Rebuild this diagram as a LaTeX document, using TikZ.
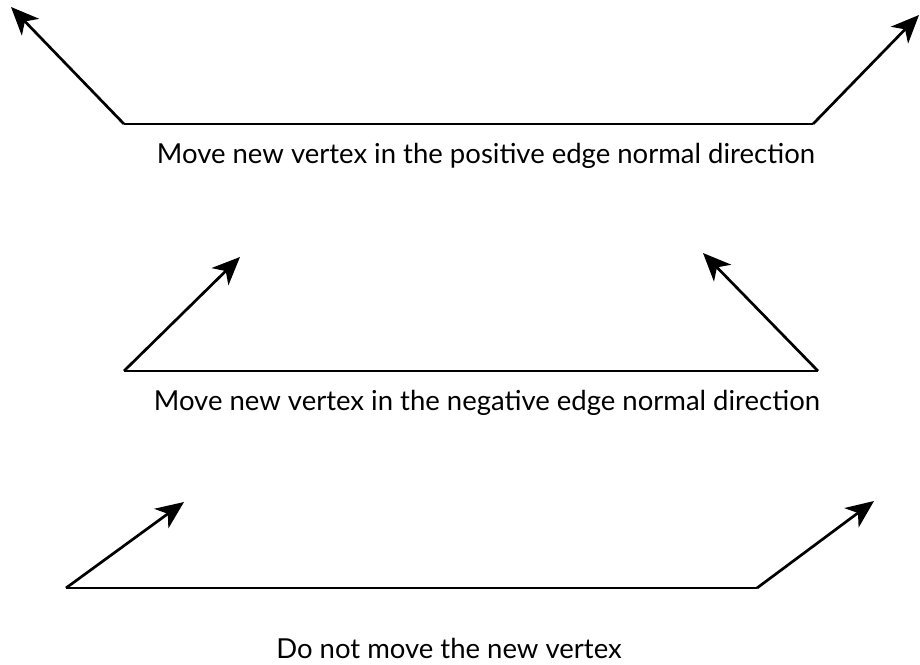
\documentclass[tikz,border=0pt]{standalone}
\usepackage{fontspec}
\setmainfont{Lato}
\usetikzlibrary{arrows.meta}
\begin{document}
\begin{tikzpicture}[x=1pt,y=-1pt,
  edgeline/.style={line width=2.7pt,line cap=butt,line join=miter},
  normalarrow/.style={line width=2.7pt,-{Stealth[length=28pt,width=24pt,inset=8pt]}},
  caption/.style={font=\fontsize{27.5}{32}\selectfont,inner sep=0pt,anchor=base}]
\useasboundingbox (0,0) rectangle (920,664);
% figure 1
\coordinate (a1) at (124,124);
\coordinate (b1) at (813,124);
\coordinate (ta1) at (11,7);
\coordinate (tb1) at (919,15);
\draw[edgeline] (a1) -- (b1);
\draw[normalarrow] (a1) -- (ta1);
\draw[normalarrow] (b1) -- (tb1);
\node[caption] (c1) at (486,163) {Move new vertex in the positive edge normal direction};
% figure 2
\coordinate (a2) at (124,371);
\coordinate (b2) at (818,371);
\coordinate (ta2) at (240,257);
\coordinate (tb2) at (703,253);
\draw[edgeline] (a2) -- (b2);
\draw[normalarrow] (a2) -- (ta2);
\draw[normalarrow] (b2) -- (tb2);
\node[caption] (c2) at (487,410) {Move new vertex in the negative edge normal direction};
% figure 3
\coordinate (a3) at (66,588);
\coordinate (b3) at (757,588);
\coordinate (ta3) at (184,502);
\coordinate (tb3) at (874,501);
\draw[edgeline] (a3) -- (b3);
\draw[normalarrow] (a3) -- (ta3);
\draw[normalarrow] (b3) -- (tb3);
\node[caption] (c3) at (449,658) {Do not move the new vertex};
\end{tikzpicture}
\end{document}
